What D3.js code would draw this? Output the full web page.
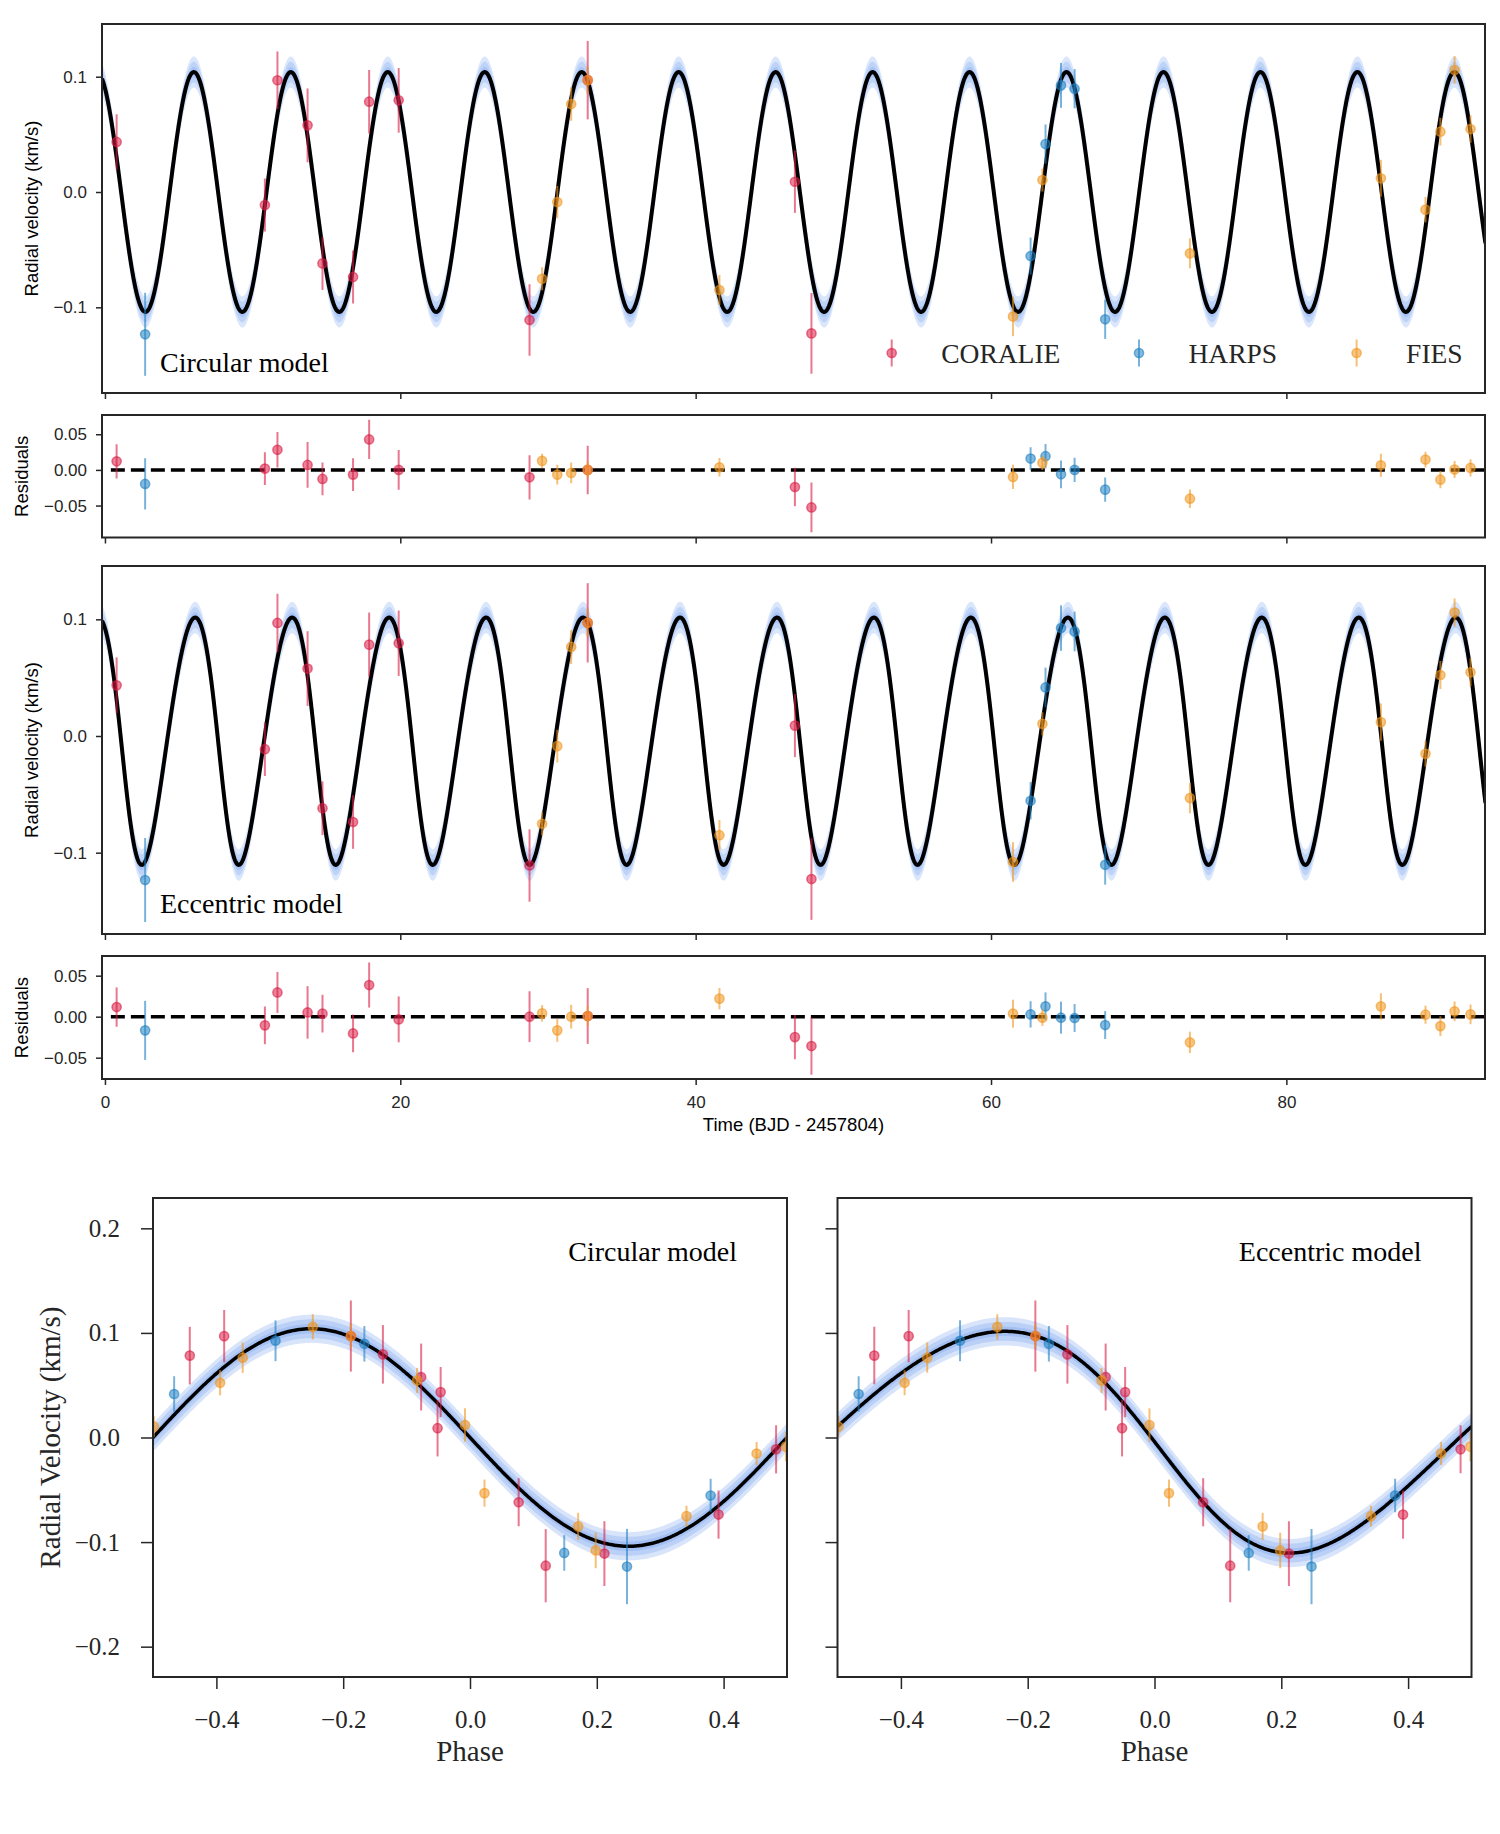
<!DOCTYPE html>
<html>
<head>
<meta charset="utf-8">
<script src="https://cdnjs.cloudflare.com/ajax/libs/d3/7.8.5/d3.min.js"></script>
<style>
body { margin: 0; background: #fff; }
svg { display: block; }
</style>
</head>
<body>
<svg width="1500" height="1834"></svg>
<script>
// data (time in BJD - 2457804, velocities in km/s)
var coralieT = [0.79, 10.83, 11.68, 13.72, 14.73, 16.80, 17.89, 19.89, 28.75, 32.69, 46.72, 47.84];
var coralieRV = [0.0434, -0.0113, 0.0969, 0.0578, -0.0619, -0.0737, 0.0783, 0.0795, -0.1110, 0.0970, 0.0089, -0.1226];
var coralieErr = [0.024, 0.023, 0.025, 0.032, 0.023, 0.023, 0.0275, 0.028, 0.031, 0.034, 0.027, 0.035];
var coralieResCirc = [0.0121, 0.0018, 0.0282, 0.0070, -0.0127, -0.0066, 0.0427, 0.0000, -0.0104, 0.0000, -0.0240, -0.0526];
var coralieResEcc = [0.0117, -0.0106, 0.0296, 0.0052, 0.0037, -0.0204, 0.0386, -0.0033, 0.0000, 0.0008, -0.0249, -0.0358];

var harpsT = [2.72, 62.68, 63.69, 64.74, 65.66, 67.73];
var harpsRV = [-0.1234, -0.0555, 0.0416, 0.0925, 0.0896, -0.1104];
var harpsErr = [0.036, 0.016, 0.017, 0.0195, 0.017, 0.017];
var harpsResCirc = [-0.0197, 0.0159, 0.0192, -0.0062, 0.0000, -0.0277];
var harpsResEcc = [-0.0167, 0.0028, 0.0126, -0.0012, -0.0016, -0.0102];

var fiesT = [29.60, 30.63, 31.57, 32.69, 41.61, 61.49, 63.48, 73.47, 86.40, 89.42, 90.43, 91.39, 92.47];
var fiesRV = [-0.0752, -0.0087, 0.0763, 0.0970, -0.0850, -0.1080, 0.0104, -0.0532, 0.0119, -0.0153, 0.0523, 0.1058, 0.0546];
var fiesErr = [0.010, 0.014, 0.0145, 0.012, 0.013, 0.017, 0.010, 0.013, 0.016, 0.011, 0.012, 0.012, 0.012];
var fiesResCirc = [0.0127, -0.0066, -0.0042, 0.0000, 0.0037, -0.0099, 0.0099, -0.0404, 0.0065, 0.0145, -0.0137, 0.0005, 0.0028];
var fiesResEcc = [0.0040, -0.0167, 0.0000, 0.0008, 0.0220, 0.0037, -0.0012, -0.0313, 0.0126, 0.0024, -0.0115, 0.0065, 0.0028];

var timeTicks = [0, 20, 40, 60, 80];
var rvTicks = [-0.1, 0.0, 0.1];
var resTicks = [-0.05, 0.0, 0.05];
var phaseTicks = [-0.4, -0.2, 0.0, 0.2, 0.4];
var phaseRvTicks = [-0.2, -0.1, 0.0, 0.1, 0.2];

// fitted orbit
var period = 6.566, t0 = 7.66;
var kCirc = 0.104;
var kEcc = 0.106, ecc = 0.09, omega = 118, periPhase = 0.0657;
var bandHalfWidths = [0.0135, 0.009, 0.0045];

var sans = "'Liberation Sans', Arial, sans-serif",
	serif = "'Liberation Serif', 'Times New Roman', serif",
	ink = "#262626",
	bandColor = "#6495ed";

var instruments = [
	{name: "CORALIE", color: "#d81e45", t: coralieT, rv: coralieRV, err: coralieErr, resC: coralieResCirc, resE: coralieResEcc},
	{name: "HARPS", color: "#1f80c2", t: harpsT, rv: harpsRV, err: harpsErr, resC: harpsResCirc, resE: harpsResEcc},
	{name: "FIES", color: "#f0961e", t: fiesT, rv: fiesRV, err: fiesErr, resC: fiesResCirc, resE: fiesResEcc}
];

function phaseOf(t) {
	var p = (t - t0) / period;
	return p - Math.round(p);
}

function circular(p) {
	return -kCirc * Math.sin(2 * Math.PI * p);
}

// keplerian curve, solves Kepler's equation by newton steps
function eccentric(p) {
	var M = 2 * Math.PI * (p - periPhase), E = M;
	for (var i = 0; i < 30; i++) E = E - (E - ecc * Math.sin(E) - M) / (1 - ecc * Math.cos(E));
	var nu = 2 * Math.atan2(Math.sqrt(1 + ecc) * Math.sin(E / 2), Math.sqrt(1 - ecc) * Math.cos(E / 2));
	var w = omega * Math.PI / 180;
	return kEcc * (Math.cos(nu + w) + ecc * Math.cos(w));
}

var svg = d3.select("svg");
var defs = svg.append("defs");

function drawPoints(g, pts, x, y) {
	var pg = g.selectAll(null).data(pts).enter().append("g");
	pg.append("line")
		.attr("x1", function(d) { return x(d.x); })
		.attr("x2", function(d) { return x(d.x); })
		.attr("y1", function(d) { return y(d.y - d.e); })
		.attr("y2", function(d) { return y(d.y + d.e); })
		.attr("stroke", function(d) { return d.color; })
		.attr("stroke-width", 2)
		.attr("stroke-opacity", 0.6);
	pg.append("circle")
		.attr("cx", function(d) { return x(d.x); })
		.attr("cy", function(d) { return y(d.y); })
		.attr("r", 4.6)
		.attr("fill", function(d) { return d.color; })
		.attr("fill-opacity", 0.55)
		.attr("stroke", function(d) { return d.color; })
		.attr("stroke-opacity", 0.6)
		.attr("stroke-width", 1.5);
}

function styleAxis(a, font, size) {
	a.select(".domain").remove();
	a.selectAll(".tick line").attr("stroke", ink).attr("stroke-width", 1.5);
	a.selectAll(".tick text").attr("fill", ink).style("font-family", font).style("font-size", size + "px");
}

// ---------- time series panels ----------
var xTime = d3.scaleLinear().domain([-0.2, 93.45]).range([102, 1485]);

var timePanels = [
	{top: 24, bottom: 393, domain: [-0.1743, 0.1457], model: circular, ticks: rvTicks, fmt: ".1f", label: "Radial velocity (km/s)", labelX: 38, note: "Circular model", legend: true},
	{top: 415, bottom: 537.5, domain: [-0.0948, 0.077], res: "resC", ticks: resTicks, fmt: ".2f", label: "Residuals", labelX: 28},
	{top: 566, bottom: 934, domain: [-0.1697, 0.1457], model: eccentric, ticks: rvTicks, fmt: ".1f", label: "Radial velocity (km/s)", labelX: 38, note: "Eccentric model"},
	{top: 956, bottom: 1079, domain: [-0.076, 0.074], res: "resE", ticks: resTicks, fmt: ".2f", label: "Residuals", labelX: 28, xLabels: true}
];

timePanels.forEach(function(p, i) {
	var y = d3.scaleLinear().domain(p.domain).range([p.bottom, p.top]);
	var g = svg.append("g");
	var x0 = xTime.range()[0], x1 = xTime.range()[1];

	defs.append("clipPath").attr("id", "tclip" + i).append("rect")
		.attr("x", x0).attr("y", p.top).attr("width", x1 - x0).attr("height", p.bottom - p.top);
	var inner = g.append("g").attr("clip-path", "url(#tclip" + i + ")");

	var pts = [];
	instruments.forEach(function(ins) {
		ins.t.forEach(function(t, j) {
			pts.push({x: t, y: p.model ? ins.rv[j] : ins[p.res][j], e: ins.err[j], color: ins.color});
		});
	});

	if (p.model) {
		var ts = d3.range(-0.2, 93.5, 0.02);
		var m = function(t) { return p.model((t - t0) / period); };
		bandHalfWidths.forEach(function(w) {
			inner.append("path").datum(ts)
				.attr("d", d3.area().x(xTime).y0(function(t) { return y(m(t) - w); }).y1(function(t) { return y(m(t) + w); }))
				.attr("fill", bandColor).attr("fill-opacity", 0.24);
		});
		inner.append("path").datum(ts)
			.attr("d", d3.line().x(xTime).y(function(t) { return y(m(t)); }))
			.attr("fill", "none").attr("stroke", "#000").attr("stroke-width", 4);
	} else {
		inner.append("line")
			.attr("x1", xTime(0.4)).attr("x2", x1)
			.attr("y1", y(0)).attr("y2", y(0))
			.attr("stroke", "#000").attr("stroke-width", 3.5).attr("stroke-dasharray", "14,6");
	}

	drawPoints(inner, pts, xTime, y);

	g.append("rect").attr("x", x0).attr("y", p.top).attr("width", x1 - x0).attr("height", p.bottom - p.top)
		.attr("fill", "none").attr("stroke", ink).attr("stroke-width", 2);

	var ay = g.append("g").attr("transform", "translate(" + x0 + ",0)")
		.call(d3.axisLeft(y).tickValues(p.ticks).tickFormat(d3.format(p.fmt)).tickSize(6).tickPadding(9));
	styleAxis(ay, sans, 17);

	var ax = g.append("g").attr("transform", "translate(0," + p.bottom + ")")
		.call(d3.axisBottom(xTime).tickValues(timeTicks).tickSize(6).tickPadding(11)
			.tickFormat(p.xLabels ? d3.format("d") : function() { return ""; }));
	styleAxis(ax, sans, 17);

	g.append("text")
		.attr("transform", "translate(" + p.labelX + "," + (p.top + p.bottom) / 2 + ") rotate(-90)")
		.attr("text-anchor", "middle").attr("fill", "#000")
		.style("font-family", sans).style("font-size", "18.5px")
		.text(p.label);

	if (p.note) {
		g.append("text").attr("x", 160).attr("y", p.bottom - 21)
			.attr("fill", "#000").style("font-family", serif).style("font-size", "28px")
			.text(p.note);
	}

	if (p.legend) {
		var legendX = [891.7, 1139, 1356.6];
		instruments.forEach(function(ins, k) {
			var lg = g.append("g").attr("transform", "translate(" + legendX[k] + ",353)");
			lg.append("line").attr("y1", -13.5).attr("y2", 13.5)
				.attr("stroke", ins.color).attr("stroke-width", 2).attr("stroke-opacity", 0.6);
			lg.append("circle").attr("r", 4.6)
				.attr("fill", ins.color).attr("fill-opacity", 0.55)
				.attr("stroke", ins.color).attr("stroke-opacity", 0.6).attr("stroke-width", 1.5);
			lg.append("text").attr("x", 49.5).attr("y", 10)
				.attr("fill", ink).style("font-family", serif).style("font-size", "27.5px")
				.text(ins.name);
		});
	}

	if (p.xLabels) {
		g.append("text").attr("x", (x0 + x1) / 2).attr("y", 1131)
			.attr("text-anchor", "middle").attr("fill", "#000")
			.style("font-family", sans).style("font-size", "18.5px")
			.text("Time (BJD - 2457804)");
	}
});

// ---------- phase folded panels ----------
var yPhase = d3.scaleLinear().domain([-0.229, 0.229]).range([1677, 1198]);

var phasePanels = [
	{left: 153, right: 787, model: circular, note: "Circular model", yLabels: true},
	{left: 837.5, right: 1471.5, model: eccentric, note: "Eccentric model", yLabels: false}
];

phasePanels.forEach(function(p, i) {
	var x = d3.scaleLinear().domain([-0.5, 0.5]).range([p.left, p.right]);
	var y = yPhase;
	var g = svg.append("g");
	var top = y.range()[1], bottom = y.range()[0];

	defs.append("clipPath").attr("id", "pclip" + i).append("rect")
		.attr("x", p.left).attr("y", top).attr("width", p.right - p.left).attr("height", bottom - top);
	var inner = g.append("g").attr("clip-path", "url(#pclip" + i + ")");

	var ps = d3.range(-0.5, 0.5005, 0.002);
	bandHalfWidths.forEach(function(w) {
		inner.append("path").datum(ps)
			.attr("d", d3.area().x(x).y0(function(q) { return y(p.model(q) - w); }).y1(function(q) { return y(p.model(q) + w); }))
			.attr("fill", bandColor).attr("fill-opacity", 0.25);
	});
	inner.append("path").datum(ps)
		.attr("d", d3.line().x(x).y(function(q) { return y(p.model(q)); }))
		.attr("fill", "none").attr("stroke", "#000").attr("stroke-width", 3.5);

	var pts = [];
	instruments.forEach(function(ins) {
		ins.t.forEach(function(t, j) {
			pts.push({x: phaseOf(t), y: ins.rv[j], e: ins.err[j], color: ins.color});
		});
	});
	drawPoints(inner, pts, x, y);

	g.append("rect").attr("x", p.left).attr("y", top).attr("width", p.right - p.left).attr("height", bottom - top)
		.attr("fill", "none").attr("stroke", ink).attr("stroke-width", 2);

	var ay = g.append("g").attr("transform", "translate(" + p.left + ",0)")
		.call(d3.axisLeft(y).tickValues(phaseRvTicks).tickSize(12).tickPadding(21)
			.tickFormat(p.yLabels ? d3.format(".1f") : function() { return ""; }));
	styleAxis(ay, serif, 25);

	var ax = g.append("g").attr("transform", "translate(0," + bottom + ")")
		.call(d3.axisBottom(x).tickValues(phaseTicks).tickSize(12).tickPadding(21).tickFormat(d3.format(".1f")));
	styleAxis(ax, serif, 25);

	g.append("text").attr("x", (p.left + p.right) / 2).attr("y", 1761)
		.attr("text-anchor", "middle").attr("fill", ink)
		.style("font-family", serif).style("font-size", "29px")
		.text("Phase");

	if (p.yLabels) {
		g.append("text")
			.attr("transform", "translate(60," + (top + bottom) / 2 + ") rotate(-90)")
			.attr("text-anchor", "middle").attr("fill", ink)
			.style("font-family", serif).style("font-size", "29px")
			.text("Radial Velocity (km/s)");
	}

	g.append("text").attr("x", p.right - 50).attr("y", 1261)
		.attr("text-anchor", "end").attr("fill", "#000")
		.style("font-family", serif).style("font-size", "28px")
		.text(p.note);
});
</script>
</body>
</html>
